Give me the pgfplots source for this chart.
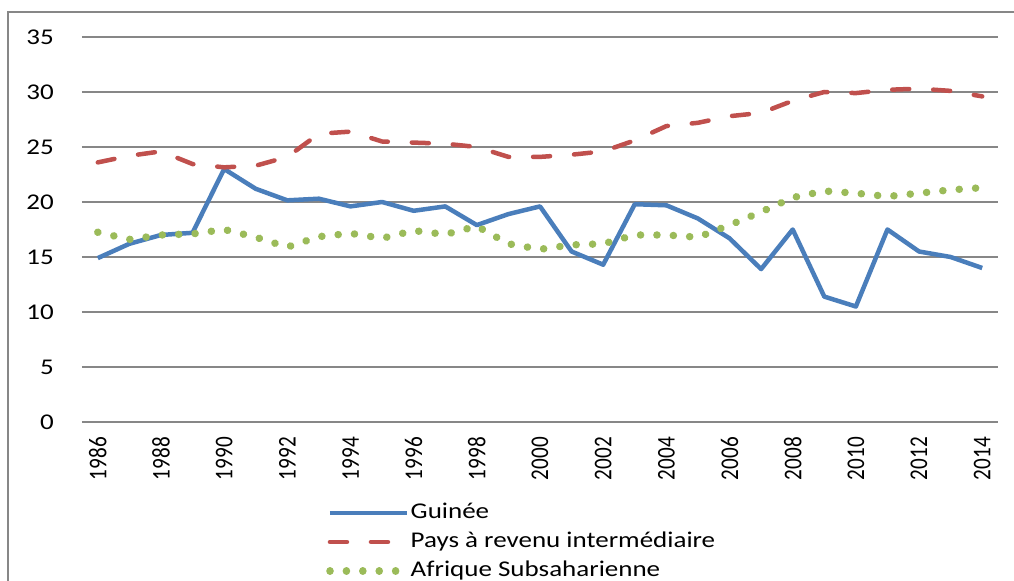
\documentclass[border=0pt]{standalone}
\usepackage{fontspec}
\setmainfont{Carlito}[FakeStretch=1.2]
\newfontfamily\yearfont{Carlito}[FakeStretch=0.83]
\usepackage{pgfplots}
\pgfplotsset{compat=1.18}
\definecolor{cblue}{HTML}{4A7EBB}
\definecolor{cred}{HTML}{C0504D}
\definecolor{cgreen}{HTML}{9BBB59}
\definecolor{cgrid}{HTML}{878787}
\begin{document}
\begin{tikzpicture}[x=1bp,y=1bp]
\useasboundingbox (-82,-159) rectangle (932,422);
\draw[cgrid, line width=1.5bp] (-74,-175) -- (-74,410) -- (950,410);
\begin{axis}[
  at={(0,0)}, anchor=south west,
  scale only axis, width=916bp, height=385bp,
  xmin=1985.5, xmax=2014.5, ymin=0, ymax=35,
  xtick={1986,1988,...,2014}, ytick={0,5,...,35},
  ymajorgrids, grid style={cgrid, line width=1.5bp},
  axis line style={draw=none}, major tick length=0pt,
  /pgf/number format/.cd, 1000 sep={}, assume math mode=true, /pgfplots/.cd,
  xticklabel style={font=\fontsize{25.5bp}{30bp}\yearfont, rotate=90, anchor=east, inner xsep=15bp, inner ysep=0pt},
  yticklabel style={font=\fontsize{22.5bp}{27bp}\selectfont, anchor=east, inner xsep=28bp, inner ysep=0pt},
  legend style={at={(0.2664,-0.3117)}, anchor=west, draw=none, fill=none, inner sep=0pt,
    font=\fontsize{22.5bp}{27bp}\selectfont, row sep=10bp, column sep=0bp,
    nodes={inner sep=0pt, text height=15bp, text depth=4bp, anchor=west}},
  legend cell align=left,
  legend image code/.code={\draw[#1] (0bp,0bp) -- (77bp,0bp);},
]
\addplot[cblue, line width=4.5bp, line join=round] coordinates {
(1986,14.9) (1987,16.2) (1988,17.0) (1989,17.2) (1990,23.0) (1991,21.2) (1992,20.15) (1993,20.3) (1994,19.6) (1995,20.0)
(1996,19.2) (1997,19.6) (1998,17.9) (1999,18.9) (2000,19.6) (2001,15.5) (2002,14.3) (2003,19.8) (2004,19.7) (2005,18.5)
(2006,16.7) (2007,13.9) (2008,17.5) (2009,11.4) (2010,10.5) (2011,17.5) (2012,15.5) (2013,15.0) (2014,14.0)};
\addplot[cred, line width=4.5bp, line cap=round, line join=round, dash pattern=on 17bp off 24bp] coordinates {
(1986,23.6) (1987,24.2) (1988,24.6) (1989,23.45) (1990,23.15) (1991,23.3) (1992,24.1) (1993,26.2) (1994,26.4) (1995,25.5)
(1996,25.4) (1997,25.3) (1998,25.0) (1999,24.1) (2000,24.1) (2001,24.3) (2002,24.6) (2003,25.6) (2004,26.9) (2005,27.2)
(2006,27.8) (2007,28.1) (2008,29.2) (2009,30.0) (2010,29.9) (2011,30.2) (2012,30.3) (2013,30.1) (2014,29.6)};
\addplot[cgreen, line width=7.5bp, line cap=round, line join=round, dash pattern=on 0.1bp off 16.3bp] coordinates {
(1986,17.25) (1987,16.6) (1988,17.0) (1989,17.1) (1990,17.5) (1991,16.8) (1992,15.9) (1993,16.85) (1994,17.15) (1995,16.7)
(1996,17.4) (1997,17.05) (1998,17.8) (1999,16.2) (2000,15.7) (2001,16.1) (2002,16.2) (2003,17.0) (2004,17.0) (2005,16.8)
(2006,17.9) (2007,19.1) (2008,20.4) (2009,21.0) (2010,20.8) (2011,20.5) (2012,20.8) (2013,21.1) (2014,21.3)};
\legend{Guinée, Pays à revenu intermédiaire, Afrique Subsaharienne}
\end{axis}
\end{tikzpicture}
\end{document}
